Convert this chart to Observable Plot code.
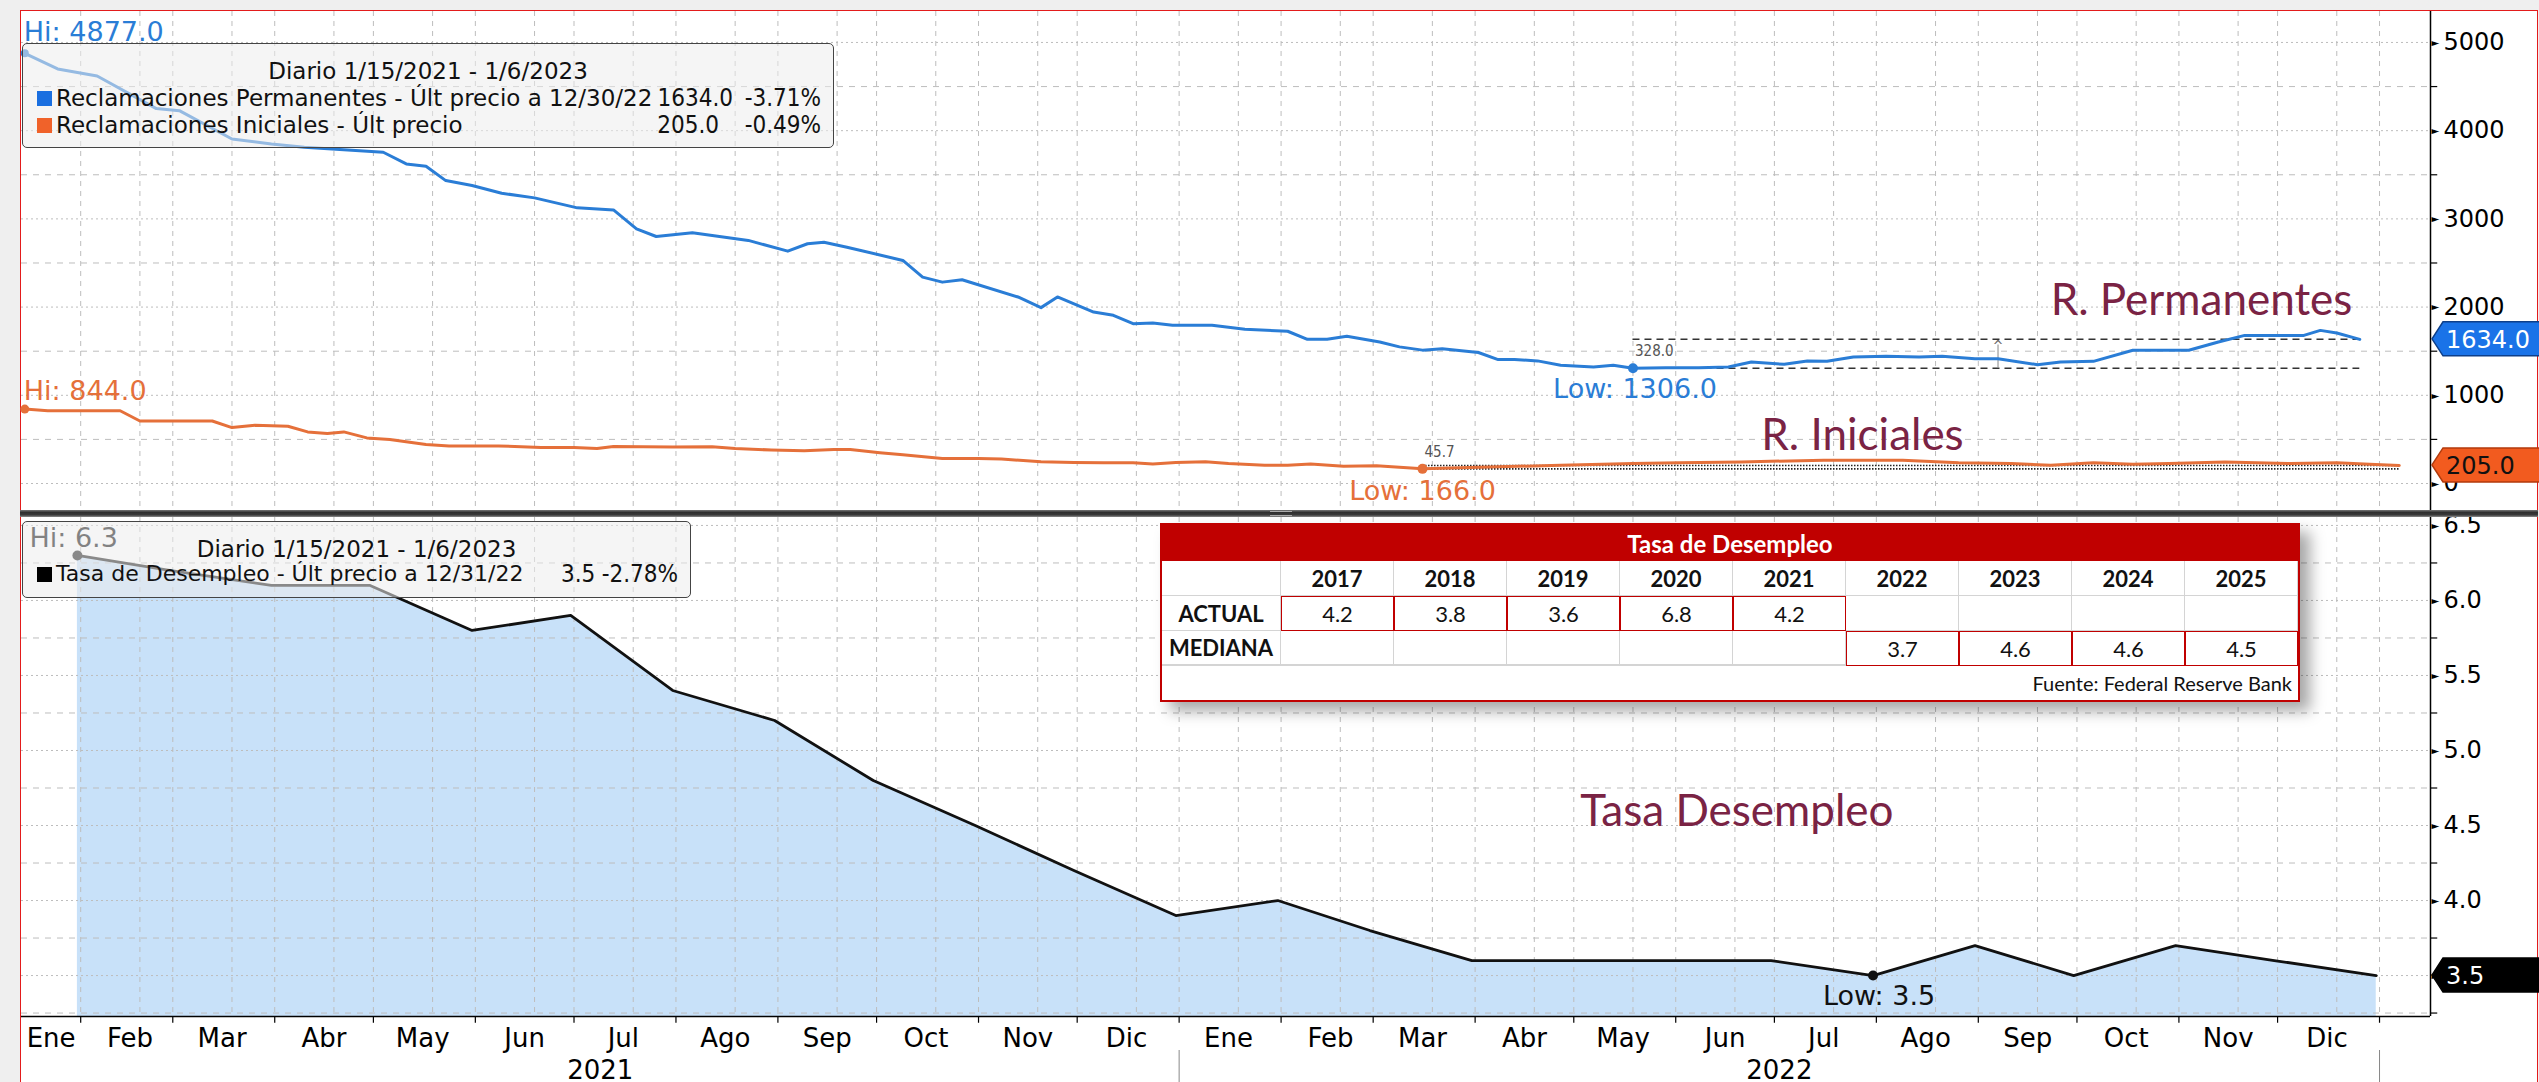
<!DOCTYPE html>
<html>
<head>
<meta charset="utf-8">
<script src="https://cdn.jsdelivr.net/npm/d3@7"></script>
<script src="https://cdn.jsdelivr.net/npm/@observablehq/plot@0.6"></script>
<style>
  html, body { margin: 0; padding: 0; width: 2539px; height: 1082px; overflow: hidden; background: #efefef; }
  .abs { position: absolute; }
  #frame { position: absolute; left: 20px; top: 10px; width: 2518px; height: 1072px; background: #fff;
           border: 1.5px solid #e31b1b; border-bottom: none; box-sizing: border-box; }
  #sep { position: absolute; left: 20px; top: 510px; width: 2518px; height: 7px;
         background: linear-gradient(#777, #2f2f2f 35%, #3a3a3a 70%, #8c8c8c); }
  .leg { position: absolute; border: 1.5px solid #444; border-radius: 5px; background: rgba(236,236,236,0.55);
         box-sizing: border-box; font-family: 'DejaVu Sans', sans-serif; font-size: 23px; color: #111; }
  .leg span { position: absolute; white-space: nowrap; line-height: 26px; }
  .leg span.num { font-family: 'DejaVu Sans Condensed', 'DejaVu Sans', sans-serif; font-stretch: condensed; font-size: 24px; }
  .sq { position: absolute; width: 15px; height: 15px; }
  #tbl { position: absolute; left: 1160px; top: 523px; width: 1136px; height: 175px; background: #fff;
         border: 2px solid #c00000; box-shadow: 10px 9px 14px rgba(0,0,0,0.35); font-family: Lato, 'DejaVu Sans', sans-serif; color: #111; }
  #tbl div { position: absolute; box-sizing: border-box; display: flex; align-items: center; justify-content: center; white-space: nowrap; }
</style>
</head>
<body>
<div id="frame"></div>
<div id="top" class="abs" style="left:21px;top:11px;width:2516px;height:499px"></div>
<div id="bot" class="abs" style="left:21px;top:517px;width:2516px;height:565px"></div>
<div id="sep"></div>
<div class="abs" style="left:1270px;top:511px;width:22px;height:3px;border-top:1px solid #aaa;border-bottom:1px solid #aaa"></div>

<div class="leg" style="left:22px;top:43px;width:812px;height:105px">
  <span style="left:0;width:100%;text-align:center;top:14px">Diario 1/15/2021 - 1/6/2023</span>
  <div class="sq" style="left:14px;top:47px;background:#1a6fe0"></div>
  <span style="left:33px;top:41px">Reclamaciones Permanentes - Últ precio a 12/30/22</span>
  <span class="num" style="right:100px;top:41px">1634.0</span>
  <span class="num" style="right:12px;top:41px">-3.71%</span>
  <div class="sq" style="left:14px;top:74px;background:#f0622a"></div>
  <span style="left:33px;top:68px">Reclamaciones Iniciales - Últ precio</span>
  <span class="num" style="right:114px;top:68px">205.0</span>
  <span class="num" style="right:12px;top:68px">-0.49%</span>
</div>

<div class="leg" style="left:22px;top:521px;width:669px;height:77px">
  <span style="left:0;width:100%;text-align:center;top:14px">Diario 1/15/2021 - 1/6/2023</span>
  <div class="sq" style="left:14px;top:45px;background:#000"></div>
  <span style="left:33px;top:39px;font-size:22px">Tasa de Desempleo - Últ precio a 12/31/22</span>
  <span class="num" style="left:538px;top:39px">3.5</span>
  <span class="num" style="right:12px;top:39px">-2.78%</span>
</div>

<div id="tbl"></div>

<script>
// ---------------- DATA ----------------
const permDates = ["2021-01-15","2021-01-25","2021-02-06","2021-02-24","2021-03-03","2021-03-19","2021-03-31","2021-04-10","2021-04-22","2021-05-04","2021-05-11","2021-05-17","2021-05-23","2021-05-31","2021-06-09","2021-06-19","2021-07-02","2021-07-13","2021-07-20","2021-07-26","2021-08-06","2021-08-23","2021-09-04","2021-09-10","2021-09-15","2021-09-22","2021-10-09","2021-10-15","2021-10-21","2021-10-27","2021-11-13","2021-11-20","2021-11-25","2021-12-06","2021-12-12","2021-12-18","2021-12-24","2021-12-30","2022-01-11","2022-01-21","2022-02-03","2022-02-09","2022-02-15","2022-02-21","2022-03-03","2022-03-09","2022-03-16","2022-03-22","2022-04-02","2022-04-08","2022-04-13","2022-04-20","2022-04-27","2022-05-07","2022-05-13","2022-05-19","2022-05-29","2022-06-08","2022-06-17","2022-06-24","2022-07-04","2022-07-11","2022-07-17","2022-07-25","2022-08-04","2022-08-14","2022-08-21","2022-08-31","2022-09-07","2022-09-19","2022-09-26","2022-10-06","2022-10-18","2022-10-26","2022-11-04","2022-11-13","2022-11-21","2022-11-30","2022-12-09","2022-12-14","2022-12-19","2022-12-26"];
const permValues = [4877,4700,4620,4250,4227,3906,3849,3812,3785,3755,3623,3597,3434,3378,3291,3238,3125,3102,2887,2800,2842,2756,2634,2718,2736,2679,2529,2340,2283,2310,2115,1994,2115,1944,1907,1812,1820,1794,1794,1749,1726,1635,1635,1669,1605,1549,1512,1527,1485,1405,1405,1390,1340,1321,1340,1306,1313,1313,1321,1377,1351,1389,1385,1434,1442,1434,1442,1415,1415,1347,1377,1385,1510,1510,1510,1604,1679,1679,1679,1736,1706,1634];

const initDates = ["2021-01-15","2021-01-22","2021-02-13","2021-02-19","2021-03-13","2021-03-19","2021-03-26","2021-04-05","2021-04-11","2021-04-17","2021-04-22","2021-04-29","2021-05-06","2021-05-17","2021-05-24","2021-06-08","2021-06-21","2021-07-01","2021-07-08","2021-07-13","2021-07-31","2021-08-12","2021-08-19","2021-08-30","2021-09-09","2021-09-18","2021-09-23","2021-10-02","2021-10-09","2021-10-21","2021-11-01","2021-11-08","2021-11-20","2021-11-30","2021-12-09","2021-12-18","2021-12-24","2021-12-31","2022-01-09","2022-01-16","2022-01-27","2022-02-03","2022-02-10","2022-02-20","2022-03-02","2022-03-16","2022-04-08","2022-04-27","2022-05-19","2022-06-02","2022-06-21","2022-07-16","2022-08-09","2022-08-26","2022-09-11","2022-09-23","2022-10-06","2022-10-18","2022-10-29","2022-11-15","2022-12-05","2022-12-19","2022-12-29","2023-01-07"];
const initValues = [844,825,825,709,709,634,660,649,585,566,585,517,498,442,426,426,408,408,396,420,415,418,396,380,372,386,385,350,325,284,284,277,246,239,235,235,220,239,246,227,208,208,220,197,201,166,189,208,226,234,245,264,264,234,226,208,234,219,226,245,226,234,219,205];

const unempDates = ["2021-01-31","2021-02-28","2021-03-31","2021-04-30","2021-05-31","2021-06-30","2021-07-31","2021-08-31","2021-09-30","2021-10-31","2021-11-30","2021-12-31","2022-01-31","2022-02-28","2022-03-31","2022-04-30","2022-05-31","2022-06-30","2022-07-31","2022-08-31","2022-09-30","2022-10-31","2022-11-30","2022-12-31"];
const unempValues = [6.3,6.2,6.1,6.1,5.8,5.9,5.4,5.2,4.8,4.5,4.2,3.9,4.0,3.8,3.6,3.6,3.6,3.6,3.5,3.7,3.5,3.7,3.6,3.5];

const monthNames = ["Ene","Feb","Mar","Abr","May","Jun","Jul","Ago","Sep","Oct","Nov","Dic"];
const topTicks = [0,1000,2000,3000,4000,5000];
const topMinorTicks = [500,1500,2500,3500,4500];
const botTicks = [3.5,4.0,4.5,5.0,5.5,6.0,6.5];
const botMinorTicks = [3.25,3.75,4.25,4.75,5.25,5.75,6.25];

const tableTitle = "Tasa de Desempleo";
const tableYears = [2017,2018,2019,2020,2021,2022,2023,2024,2025];
const tableActual = [4.2,3.8,3.6,6.8,4.2,null,null,null,null];
const tableMediana = [null,null,null,null,null,3.7,4.6,4.6,4.5];
const tableSource = "Fuente: Federal Reserve Bank";

const seriesLabels = [
  {panel:"top", text:"R. Permanentes", date:"2022-09-23", value:1905},
  {panel:"top", text:"R. Iniciales", date:"2022-06-27", value:385},
  {panel:"bot", text:"Tasa Desempleo", date:"2022-05-03", value:4.5}
];
const initRangeText = "45.7";

// ---------------- SETUP ----------------
const parse = d3.utcParse("%Y-%m-%d");
const perm = permDates.map((d, i) => ({date: parse(d), value: permValues[i]}));
const init = initDates.map((d, i) => ({date: parse(d), value: initValues[i]}));
const unemp = unempDates.map((d, i) => ({date: parse(d), value: unempValues[i]}));
const labels = seriesLabels.map(d => ({...d, date: parse(d.date)}));

const xStart = new Date(Date.UTC(2021, 0, 14));
const xEnd = new Date(Date.UTC(2023, 0, 16, 12));
const tickEnd = new Date(xEnd.getTime() + 2.2 * 864e5);
const topY = [-306, 5351];
const botY = [3.227, 6.553];

const BLUE = "#2a7dd6", ORANGE = "#e5703a", GRID = "#bdbdbd", MAROON = "#7a2344";
const FONT = "'DejaVu Sans', sans-serif";
const FONTC = "'DejaVu Sans Condensed', 'DejaVu Sans', sans-serif";

const monthStarts = d3.utcMonth.range(new Date(Date.UTC(2021,1,1)), new Date(Date.UTC(2023,0,2)));
const midLines = monthStarts.slice(0, -1).map(d => d3.utcDay.offset(d, 18));
const vGrid = monthStarts.concat(midLines);
const monthLabels = [{date: new Date((xStart.getTime() + monthStarts[0].getTime()) / 2), label: monthNames[0]}]
  .concat(monthStarts.slice(0, -1).map(d => ({date: d3.utcDay.offset(d, 15), label: monthNames[d.getUTCMonth()]})));
const yearStarts = [new Date(Date.UTC(2022,0,1)), new Date(Date.UTC(2023,0,1))];
const yearLabels = [
  {date: new Date((xStart.getTime() + yearStarts[0].getTime()) / 2), label: "2021"},
  {date: new Date((yearStarts[0].getTime() + yearStarts[1].getTime()) / 2), label: "2022"}
];

const permHi = d3.greatest(perm, d => d.value), permLow = d3.least(perm, d => d.value), permLast = perm[perm.length - 1];
const initHi = d3.greatest(init, d => d.value), initLow = d3.least(init, d => d.value), initLast = init[init.length - 1];
const unHi = d3.greatest(unemp, d => d.value), unLow = d3.least(unemp, d => d.value), unLast = unemp[unemp.length - 1];
const markerDate = parse("2022-09-07");

function axisMarks(major, minor, fmt) {
  return [
    Plot.ruleX([xEnd], {stroke: "#000", strokeWidth: 1.5}),
    Plot.text(major, {x: () => xEnd, y: d => d, text: () => "►", fontSize: 10, dx: 1, textAnchor: "start", fill: "#000"}),
    Plot.ruleY(minor, {x1: () => xEnd, x2: () => tickEnd, stroke: "#000", strokeWidth: 1.2}),
    Plot.text(major, {x: () => xEnd, y: d => d, text: fmt, dx: 13, textAnchor: "start", fontSize: 24, fontFamily: FONT, fill: "#000"})
  ];
}

// ---------------- TOP PANEL ----------------
const topPlot = Plot.plot({
  width: 2516, height: 499,
  marginLeft: 0, marginTop: 0, marginBottom: 0, marginRight: 107,
  x: {type: "utc", domain: [xStart, xEnd], axis: null},
  y: {domain: topY, axis: null},
  style: {background: "transparent", overflow: "visible", fontFamily: FONT},
  marks: [
    Plot.ruleX(vGrid, {stroke: GRID, strokeDasharray: "5,5"}),
    Plot.ruleY(topTicks, {stroke: GRID, strokeDasharray: "2,3"}),
    Plot.ruleY(topMinorTicks, {stroke: GRID, strokeDasharray: "6,6"}),
    ...axisMarks(topTicks, topMinorTicks, d => String(d)),
    Plot.ruleY([permLow.value, permLast.value], {x1: () => permLow.date, x2: () => permLast.date, stroke: "#333", strokeWidth: 1.5, strokeDasharray: "7,5"}),
    Plot.ruleY([initLow.value, initLast.value], {x1: () => initLow.date, x2: () => initLast.date, stroke: "#222", strokeWidth: 1.6, strokeDasharray: "1.5,1.5"}),
    Plot.ruleX([markerDate], {y1: permLow.value, y2: 1570, stroke: "#888", strokeWidth: 1}),
    Plot.text([markerDate], {x: d => d, y: () => 1570, text: () => "^", fontSize: 14, fill: "#666", fontFamily: FONTC, lineAnchor: "top", dy: -4}),
    Plot.line(init, {x: "date", y: "value", stroke: ORANGE, strokeWidth: 3}),
    Plot.line(perm, {x: "date", y: "value", stroke: BLUE, strokeWidth: 3}),
    Plot.dot([permHi], {x: "date", y: "value", r: 4, fill: BLUE}),
    Plot.dot([initHi], {x: "date", y: "value", r: 4.5, fill: ORANGE}),
    Plot.dot([permLow], {x: "date", y: "value", r: 5, fill: BLUE}),
    Plot.dot([initLow], {x: "date", y: "value", r: 5, fill: ORANGE}),
    Plot.text([permHi], {x: "date", y: "value", text: d => `Hi: ${d.value.toFixed(1)}`, textAnchor: "start", dx: -1, dy: -21, fontSize: 27, fill: BLUE}),
    Plot.text([initHi], {x: "date", y: "value", text: d => `Hi: ${d.value.toFixed(1)}`, textAnchor: "start", dx: -1, dy: -18, fontSize: 27, fill: ORANGE}),
    Plot.text([permLow], {x: "date", y: "value", text: d => `Low: ${d.value.toFixed(1)}`, dx: 2, dy: 21, fontSize: 27, fill: BLUE}),
    Plot.text([initLow], {x: "date", y: "value", text: d => `Low: ${d.value.toFixed(1)}`, dx: 0, dy: 22, fontSize: 27, fill: ORANGE}),
    Plot.text([permLow], {x: "date", y: "value", text: d => (permLast.value - d.value).toFixed(1), textAnchor: "start", dx: 2, dy: -17, fontSize: 15, fontFamily: FONTC, fill: "#555"}),
    Plot.text([initLow], {x: "date", y: "value", text: () => initRangeText, textAnchor: "start", dx: 2, dy: -17, fontSize: 15, fontFamily: FONTC, fill: "#555"}),
    Plot.text(labels.filter(d => d.panel === "top"), {x: "date", y: "value", text: "text", textAnchor: "start", lineAnchor: "bottom", fontSize: 44, fontFamily: "Lato, sans-serif", fill: MAROON})
  ]
});
document.getElementById("top").appendChild(topPlot);

// ---------------- BOTTOM PANEL ----------------
const botPlot = Plot.plot({
  width: 2516, height: 565,
  marginLeft: 0, marginTop: 0, marginBottom: 66, marginRight: 107,
  x: {type: "utc", domain: [xStart, xEnd], axis: null},
  y: {domain: botY, axis: null},
  style: {background: "transparent", overflow: "visible", fontFamily: FONT},
  marks: [
    Plot.areaY(unemp, {x: "date", y1: () => botY[0], y2: "value", fill: "#c8e1f9"}),
    Plot.ruleX(vGrid, {stroke: GRID, strokeDasharray: "5,5"}),
    Plot.ruleY(botTicks, {stroke: GRID, strokeDasharray: "2,3"}),
    Plot.ruleY(botMinorTicks, {stroke: GRID, strokeDasharray: "6,6"}),
    ...axisMarks(botTicks, botMinorTicks, d => d.toFixed(1)),
    Plot.ruleY([botY[0]], {stroke: "#000", strokeWidth: 1.5}),
    Plot.ruleX(monthStarts, {y1: () => botY[0], y2: () => botY[0] - 0.045, stroke: "#000", strokeWidth: 1.2}),
    Plot.text(monthLabels, {x: "date", y: () => botY[0], text: "label", dy: 22, fontSize: 26, fill: "#000"}),
    Plot.text(yearLabels, {x: "date", y: () => botY[0], text: "label", dy: 54, fontSize: 26, fill: "#000"}),
    Plot.ruleX(yearStarts, {y1: () => botY[0] - 34 / 150, y2: () => botY[0] - 70 / 150, stroke: "#888", strokeWidth: 1}),
    Plot.line(unemp, {x: "date", y: "value", stroke: "#111", strokeWidth: 2.8}),
    Plot.dot([unHi], {x: "date", y: "value", r: 5, fill: "#111"}),
    Plot.dot([unLow], {x: "date", y: "value", r: 5, fill: "#111"}),
    Plot.text([unHi], {x: "date", y: "value", text: d => `Hi: ${d.value.toFixed(1)}`, textAnchor: "start", dx: -48, dy: -17, fontSize: 27, fill: "#000"}),
    Plot.text([unLow], {x: "date", y: "value", text: d => `Low: ${d.value.toFixed(1)}`, dx: 6, dy: 21, fontSize: 27, fill: "#111"}),
    Plot.text(labels.filter(d => d.panel === "bot"), {x: "date", y: "value", text: "text", textAnchor: "start", lineAnchor: "bottom", fontSize: 44, fontFamily: "Lato, sans-serif", fill: MAROON})
  ]
});
document.getElementById("bot").appendChild(botPlot);

// ---------------- VALUE TAGS ----------------
function addTag(plot, value, text, fill, stroke, color) {
  const cy = plot.scale("y").apply(value);
  const x0 = 2432 - 21, x1 = 2443 - 21, x2 = 2540 - 21, h = 17;
  const g = d3.select(plot).append("g").attr("text-anchor", "start");
  g.append("path")
    .attr("d", `M${x0},${cy} L${x1},${cy - h} L${x2},${cy - h} L${x2},${cy + h} L${x1},${cy + h} Z`)
    .attr("fill", fill).attr("stroke", stroke).attr("stroke-width", 1.5);
  g.append("text").attr("x", 2446 - 21).attr("y", cy).attr("dy", "0.36em").attr("text-anchor", "start")
    .attr("fill", color).attr("font-size", 24).attr("font-family", FONT).text(text);
}
addTag(topPlot, permLast.value, permLast.value.toFixed(1), "#1a73e8", "#0d3f8a", "#fff");
addTag(topPlot, initLast.value, initLast.value.toFixed(1), "#f25b1f", "#b23a0c", "#111");
addTag(botPlot, unLast.value, unLast.value.toFixed(1), "#000", "#000", "#fff");

// ---------------- TABLE ----------------
const tbl = document.getElementById("tbl");
function cell(x, y, w, h, text, style) {
  const el = document.createElement("div");
  el.style.left = x + "px"; el.style.top = y + "px"; el.style.width = w + "px"; el.style.height = h + "px";
  Object.assign(el.style, style || {});
  el.textContent = text == null ? "" : text;
  tbl.appendChild(el);
  return el;
}
const c0 = 119, cw = 113;
const rowY = [36, 71, 106, 141], rh = 35;
cell(0, 0, 1136, 36, tableTitle, {background: "#c00000", color: "#fff", fontWeight: "bold", fontSize: "24px"});
cell(0, rowY[0], c0, rh, "", {borderBottom: "1px solid #d4d4d4", borderRight: "1px solid #d4d4d4"});
cell(0, rowY[1], c0, rh, "ACTUAL", {fontWeight: "bold", fontSize: "22px", borderBottom: "1px solid #d4d4d4", borderRight: "1px solid #d4d4d4"});
cell(0, rowY[2], c0, rh, "MEDIANA", {fontWeight: "bold", fontSize: "22px", borderBottom: "2px solid #d4d4d4", borderRight: "1px solid #d4d4d4"});
tableYears.forEach((yr, i) => {
  const x = c0 + i * cw;
  cell(x, rowY[0], cw, rh, yr, {fontWeight: "bold", fontSize: "22px", borderBottom: "1px solid #d4d4d4", borderRight: "1px solid #d4d4d4"});
  const a = tableActual[i], m = tableMediana[i];
  cell(x, rowY[1], cw, rh, a == null ? "" : a.toFixed(1),
    a == null ? {fontSize: "22px", borderBottom: "1px solid #d4d4d4", borderRight: "1px solid #d4d4d4"}
              : {fontSize: "22px", border: "1.5px solid #c00000"});
  cell(x, rowY[2], cw, rh, m == null ? "" : m.toFixed(1),
    m == null ? {fontSize: "22px", borderBottom: "2px solid #d4d4d4", borderRight: "1px solid #d4d4d4"}
              : {fontSize: "22px", border: "1.5px solid #c00000"});
});
cell(0, rowY[3], 1130, 34, tableSource, {justifyContent: "flex-end", fontSize: "20px"});
</script>
</body>
</html>
